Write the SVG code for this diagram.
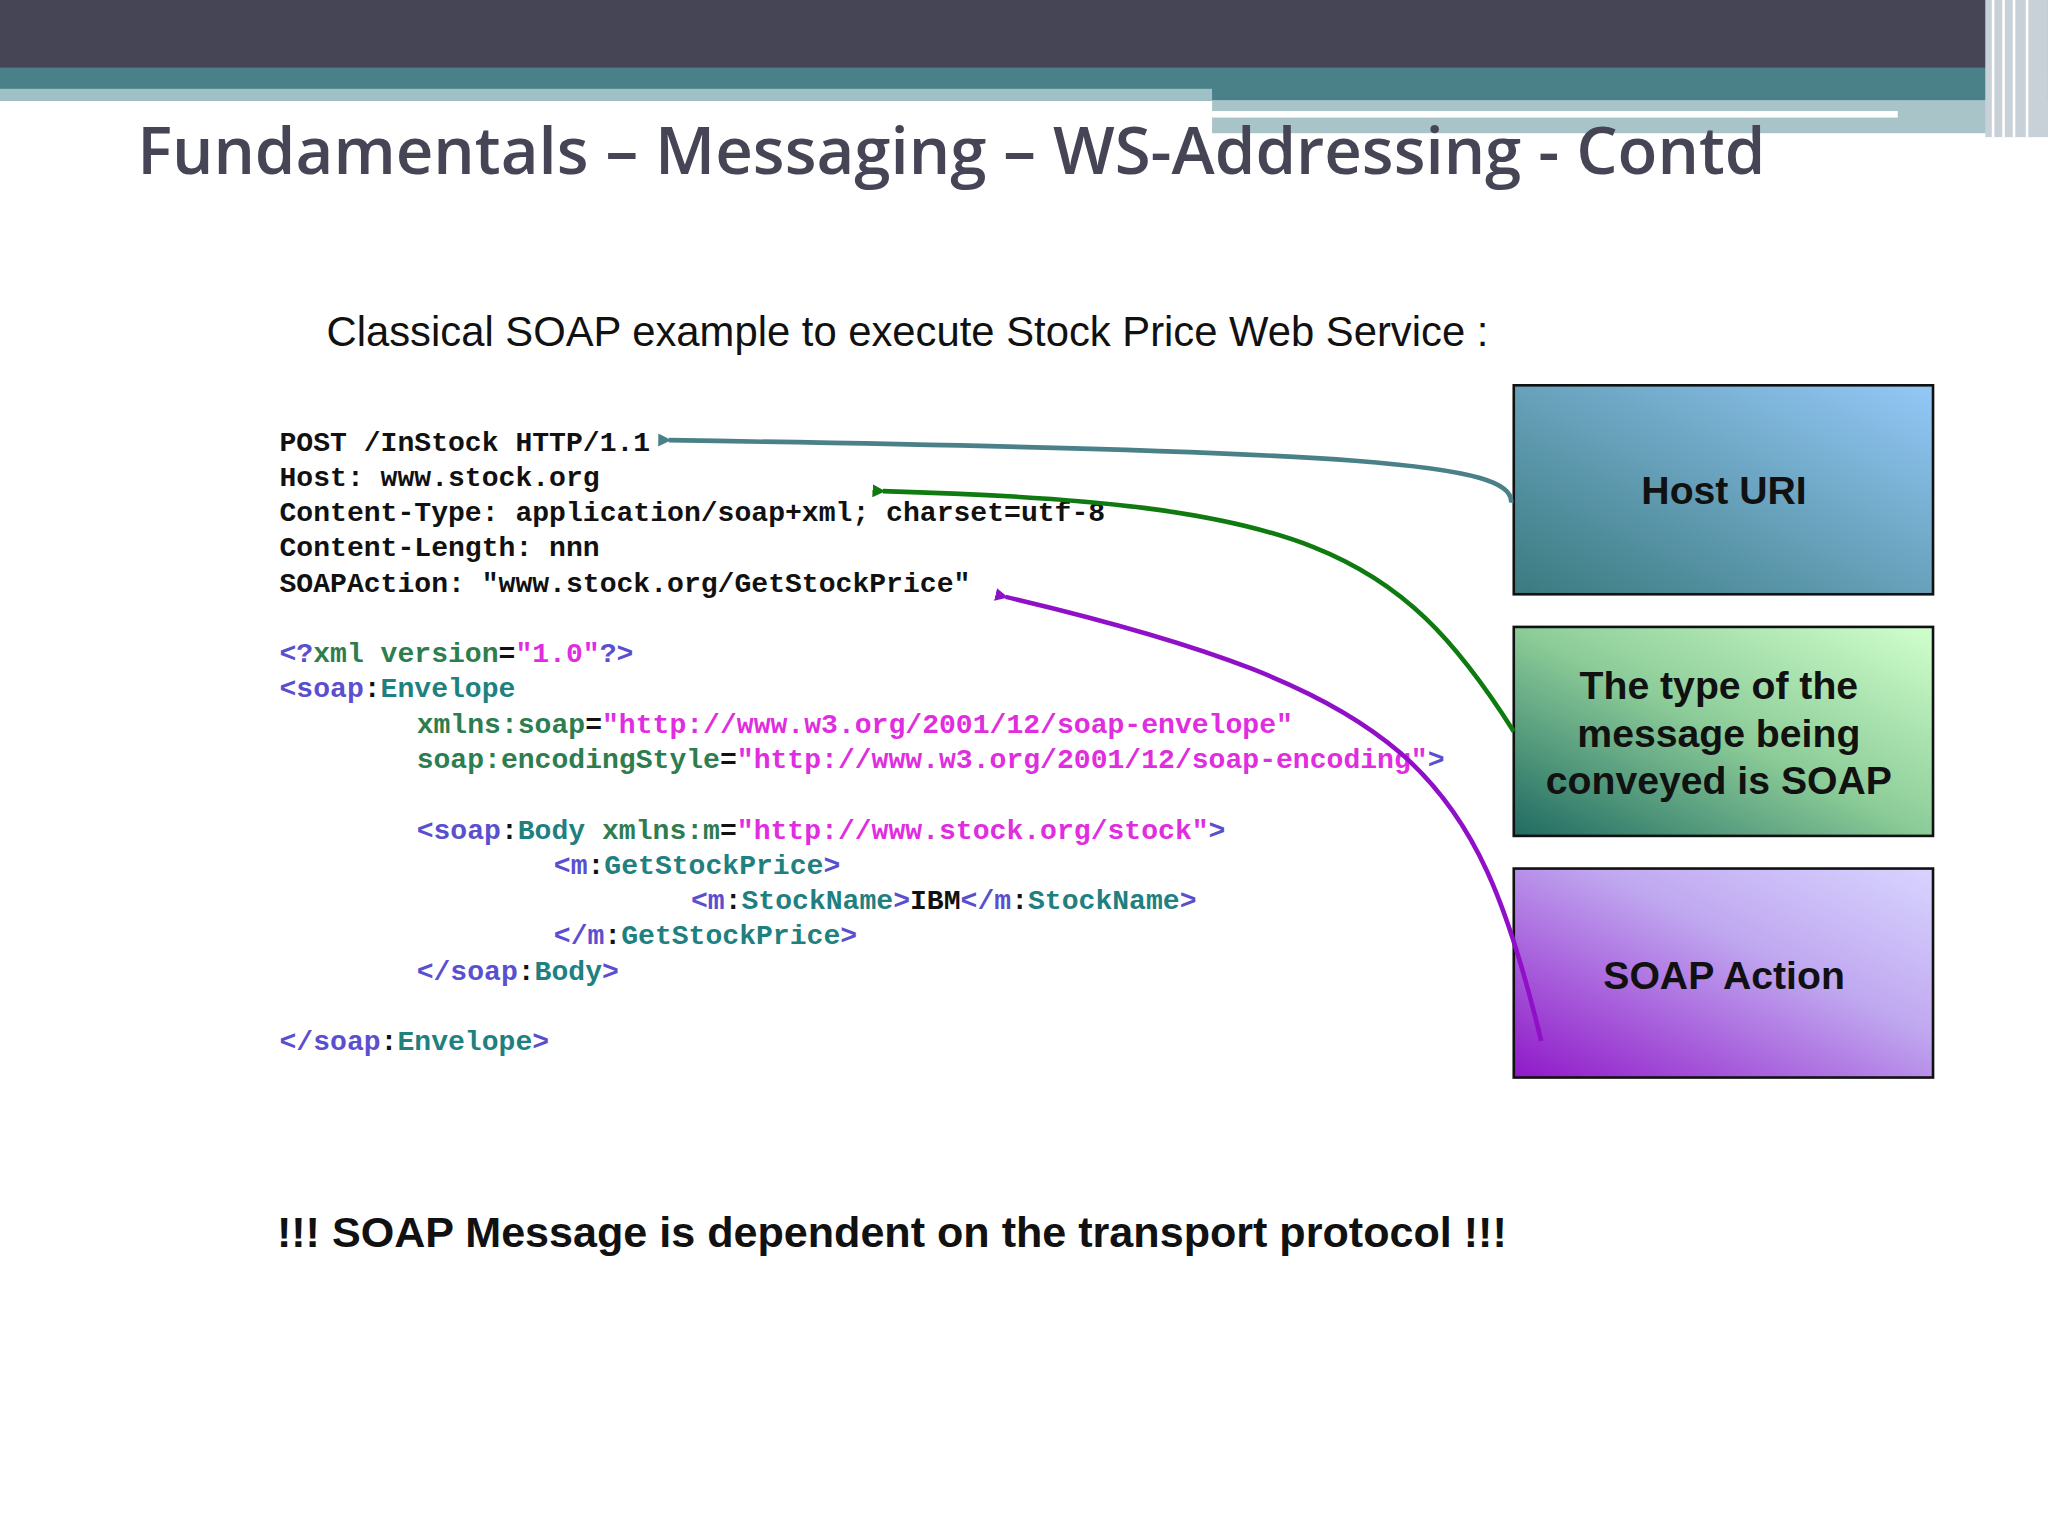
<svg xmlns="http://www.w3.org/2000/svg" width="2048" height="1536" viewBox="0 0 2048 1536">
<defs>
<style>
.code{font-family:"Liberation Mono","DejaVu Sans Mono",monospace;font-size:21.5px;font-weight:bold;white-space:pre}
.k{fill:#111}.t{fill:#5a4fcf}.n{fill:#1f8080}.a{fill:#2e7d4f}.v{fill:#e02de0}
.box{font-family:"Liberation Sans",Arial,sans-serif;font-size:30px;font-weight:bold;fill:#111;text-anchor:middle}
</style>
<linearGradient id="g1" x1="0" y1="1" x2="1" y2="0"><stop offset="0" stop-color="#3a7a7e"/><stop offset="1" stop-color="#94c8f8"/></linearGradient>
<linearGradient id="g2" x1="0" y1="1" x2="1" y2="0"><stop offset="0" stop-color="#1f6a62"/><stop offset="0.5" stop-color="#8ccc98"/><stop offset="1" stop-color="#d0ffcc"/></linearGradient>
<linearGradient id="g3" x1="0" y1="1" x2="1" y2="0"><stop offset="0" stop-color="#9018c8"/><stop offset="0.6" stop-color="#c0a8f0"/><stop offset="1" stop-color="#d8d4ff"/></linearGradient>
<marker id="mT" markerWidth="10" markerHeight="10" refX="2" refY="5" orient="auto" markerUnits="userSpaceOnUse" viewBox="0 0 10 10"><path d="M10,0 L0,5 L10,10 z" fill="#4a8088"/></marker>
<marker id="mG" markerWidth="10" markerHeight="10" refX="2" refY="5" orient="auto" markerUnits="userSpaceOnUse" viewBox="0 0 10 10"><path d="M10,0 L0,5 L10,10 z" fill="#0f7a10"/></marker>
<marker id="mP" markerWidth="10" markerHeight="10" refX="2" refY="5" orient="auto" markerUnits="userSpaceOnUse" viewBox="0 0 10 10"><path d="M10,0 L0,5 L10,10 z" fill="#9010c8"/></marker>
</defs>
<rect width="2048" height="1536" fill="#fff"/>
<g transform="scale(1.3061)">
<rect x="0" y="0" width="1568" height="52" fill="#454556"/>
<rect x="0" y="52" width="1568" height="25" fill="#4a8088"/>
<rect x="0" y="68" width="928" height="9" fill="#9fc0c4"/>
<rect x="928" y="77" width="600" height="25" fill="#a8c4c8"/>
<rect x="928" y="85" width="525" height="5" fill="#fff"/>
<rect x="1520" y="0" width="48" height="105" fill="#c8d0d8"/>
<g stroke="#fff" stroke-width="2"><line x1="1526" y1="0" x2="1526" y2="105"/><line x1="1534" y1="0" x2="1534" y2="105"/><line x1="1542" y1="0" x2="1542" y2="105"/><line x1="1552" y1="0" x2="1552" y2="105"/></g>
<text x="105" y="133" font-family="'Open Sans','Noto Sans',sans-serif" font-size="50" font-weight="600" fill="#454556">Fundamentals – Messaging – WS-Addressing - Contd</text>
<text x="250" y="265" font-family="'Liberation Sans',Arial,sans-serif" font-size="32" fill="#111">Classical SOAP example to execute Stock Price Web Service :</text>
<g id="code" class="code">
<text x="214" y="345" class="k">POST /InStock HTTP/1.1</text>
<text x="214" y="372" class="k">Host: www.stock.org</text>
<text x="214" y="399" class="k">Content-Type: application/soap+xml; charset=utf-8</text>
<text x="214" y="426" class="k">Content-Length: nnn</text>
<text x="214" y="453" class="k">SOAPAction: "www.stock.org/GetStockPrice"</text>
<text x="214" y="507"><tspan class="t">&lt;?</tspan><tspan class="a">xml version</tspan><tspan class="k">=</tspan><tspan class="v">"1.0"</tspan><tspan class="t">?&gt;</tspan></text>
<text x="214" y="534"><tspan class="t">&lt;soap</tspan><tspan class="k">:</tspan><tspan class="n">Envelope</tspan></text>
<text x="319" y="561"><tspan class="a">xmlns:soap</tspan><tspan class="k">=</tspan><tspan class="v">"http://www.w3.org/2001/12/soap-envelope"</tspan></text>
<text x="319" y="588"><tspan class="a">soap:encodingStyle</tspan><tspan class="k">=</tspan><tspan class="v">"http://www.w3.org/2001/12/soap-encoding"</tspan><tspan class="t">&gt;</tspan></text>
<text x="319" y="642"><tspan class="t">&lt;soap</tspan><tspan class="k">:</tspan><tspan class="n">Body </tspan><tspan class="a">xmlns:m</tspan><tspan class="k">=</tspan><tspan class="v">"http://www.stock.org/stock"</tspan><tspan class="t">&gt;</tspan></text>
<text x="424" y="669"><tspan class="t">&lt;m</tspan><tspan class="k">:</tspan><tspan class="n">GetStockPrice</tspan><tspan class="t">&gt;</tspan></text>
<text x="529" y="696"><tspan class="t">&lt;m</tspan><tspan class="k">:</tspan><tspan class="n">StockName</tspan><tspan class="t">&gt;</tspan><tspan class="k">IBM</tspan><tspan class="t">&lt;/m</tspan><tspan class="k">:</tspan><tspan class="n">StockName</tspan><tspan class="t">&gt;</tspan></text>
<text x="424" y="723"><tspan class="t">&lt;/m</tspan><tspan class="k">:</tspan><tspan class="n">GetStockPrice</tspan><tspan class="t">&gt;</tspan></text>
<text x="319" y="750"><tspan class="t">&lt;/soap</tspan><tspan class="k">:</tspan><tspan class="n">Body</tspan><tspan class="t">&gt;</tspan></text>
<text x="214" y="804"><tspan class="t">&lt;/soap</tspan><tspan class="k">:</tspan><tspan class="n">Envelope</tspan><tspan class="t">&gt;</tspan></text>
</g>
<g id="host"><rect x="1159" y="295" width="321" height="160" fill="url(#g1)" stroke="#111" stroke-width="2"/><text class="box" x="1320" y="386">Host URI</text></g>
<g id="type"><rect x="1159" y="480" width="321" height="160" fill="url(#g2)" stroke="#111" stroke-width="2"/><text class="box" x="1316" y="535">The type of the</text><text class="box" x="1316" y="572">message being</text><text class="box" x="1316" y="608">conveyed is SOAP</text></g>
<g id="action"><rect x="1159" y="665" width="321" height="160" fill="url(#g3)" stroke="#111" stroke-width="2"/><text class="box" x="1320" y="757">SOAP Action</text></g>
<g id="connectors" fill="none" stroke-width="3.5">
<path d="M1157,385 C1160,355 1050,345 512,337" stroke="#4a8088" marker-end="url(#mT)"/>
<path d="M1159,560 C1070,420 1000,385 676,376" stroke="#0f7a10" marker-end="url(#mG)"/>
<path d="M1180,797 C1130,590 1080,530 770,457" stroke="#9010c8" marker-end="url(#mP)"/>
</g>
<text x="212" y="955" font-family="'Liberation Sans',Arial,sans-serif" font-size="33" font-weight="bold" fill="#111">!!! SOAP Message is dependent on the transport protocol !!!</text>
</g>
</svg>
